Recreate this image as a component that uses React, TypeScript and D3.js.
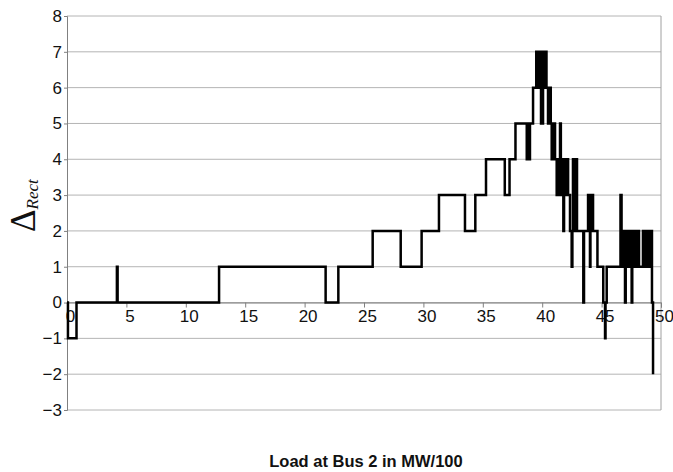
import React, { useEffect, useRef } from "react";
import * as d3 from "d3";

// load at bus 2 (MW/100) where the index changes, and the new value
const loads = [
  0, 0.08, 0.8, 4.2, 4.26, 12.8, 21.77, 22.84, 25.73, 28.09, 29.85, 31.31,
  33.5, 34.37, 35.27, 36.85, 37.25, 37.75, 38.7, 38.76, 38.82, 38.88, 38.94,
  38.97, 39.23, 39.5, 39.6, 39.72, 39.78, 39.84, 39.9, 40.07, 40.15, 40.22,
  40.36, 40.49, 40.66, 40.72, 40.8, 40.86, 40.93, 41.0, 41.08, 41.22, 41.33,
  41.42, 41.5, 41.57, 41.64, 41.7, 41.78, 41.84, 41.92, 42.0, 42.09, 42.18,
  42.34, 42.48, 42.54, 42.59, 42.66, 42.72, 42.79, 42.85, 42.93, 43.46, 43.52,
  43.86, 43.94, 44.02, 44.06, 44.11, 44.19, 44.28, 44.65, 45.14, 45.29, 45.33,
  45.43, 46.59, 46.68, 46.74, 46.8, 46.97, 47.03, 47.14, 47.2, 47.31, 47.37,
  47.53, 47.58, 47.64, 47.7, 47.81, 47.87, 47.98, 48.04, 48.15, 48.48, 48.56,
  48.65, 48.73, 48.82, 48.9, 48.99, 49.08, 49.16, 49.24, 49.33,
];
const deltas = [
  0, -1, 0, 1, 0, 1, 0, 1, 2, 1, 2, 3,
  2, 3, 4, 3, 4, 5, 4, 5, 4, 5, 4,
  5, 6, 7, 6, 7, 6, 7, 5, 7, 6, 7,
  6, 5, 6, 5, 4, 5, 4, 5, 4, 3, 4,
  3, 5, 4, 3, 4, 2, 3, 4, 3, 4, 3,
  2, 1, 2, 4, 2, 4, 2, 4, 2, 0, 2,
  3, 2, 1, 3, 2, 3, 2, 1, 0, -1, 0,
  1, 3, 2, 1, 2, 0, 2, 1, 2, 1, 2,
  0, 2, 1, 2, 1, 2, 1, 2, 1, 2, 1,
  2, 1, 2, 1, 2, 1, 2, 0, -2,
];
const xTickValues = [0, 5, 10, 15, 20, 25, 30, 35, 40, 45, 50];
const yTickValues = [-3, -2, -1, 0, 1, 2, 3, 4, 5, 6, 7, 8];

const width = 673;
const height = 472;

function App() {
  const svgRef = useRef<SVGSVGElement>(null);

  useEffect(() => {
    const svg = d3.select(svgRef.current);
    svg.selectAll("*").remove();

    const xScale = d3.scaleLinear().domain([0, 50]).range([67, 661]);
    const yScale = d3.scaleLinear().domain([-3, 8]).range([410, 16]);

    // horizontal gridlines
    svg
      .append("g")
      .selectAll("line")
      .data(yTickValues)
      .join("line")
      .attr("x1", xScale(0))
      .attr("x2", xScale(50))
      .attr("y1", (d) => yScale(d))
      .attr("y2", (d) => yScale(d))
      .attr("stroke", "#b4b4b4")
      .attr("stroke-width", 1);

    // right border of plot area
    svg
      .append("line")
      .attr("x1", xScale(50))
      .attr("x2", xScale(50))
      .attr("y1", yScale(8))
      .attr("y2", yScale(-3))
      .attr("stroke", "#a0a0a0");

    // y axis
    const yAxis = d3
      .axisLeft(yScale)
      .tickValues(yTickValues)
      .tickSize(3)
      .tickPadding(2)
      .tickFormat(d3.format("d"));
    const gy = svg
      .append("g")
      .attr("transform", `translate(${xScale(0)},0)`)
      .call(yAxis);
    gy.select(".domain").attr("stroke", "#808080");
    gy.selectAll(".tick line").attr("stroke", "#808080");
    gy.selectAll(".tick text")
      .attr("font-family", "'Liberation Sans', Arial, sans-serif")
      .attr("font-size", 17)
      .attr("fill", "#111");

    // x axis crossing at zero
    const xAxis = d3
      .axisBottom(xScale)
      .tickValues(xTickValues)
      .tickSize(5)
      .tickPadding(2)
      .tickFormat(d3.format("d"));
    const gx = svg
      .append("g")
      .attr("transform", `translate(0,${yScale(0)})`)
      .call(xAxis);
    gx.select(".domain").attr("stroke", "#808080");
    gx.selectAll(".tick line").attr("stroke", "#808080");
    gx.selectAll(".tick text")
      .attr("dx", 3)
      .attr("font-family", "'Liberation Sans', Arial, sans-serif")
      .attr("font-size", 17)
      .attr("fill", "#111");

    // step series
    const points = loads.map((l, i) => [l, deltas[i]] as [number, number]);
    const lineGen = d3
      .line<[number, number]>()
      .x((d) => xScale(d[0]))
      .y((d) => yScale(d[1]))
      .curve(d3.curveStepAfter);
    svg
      .append("path")
      .datum(points)
      .attr("d", lineGen)
      .attr("fill", "none")
      .attr("stroke", "#000")
      .attr("stroke-width", 2.5)
      .attr("stroke-linejoin", "miter");

    // axis titles
    const yTitle = svg
      .append("text")
      .attr("transform", "translate(35,232) rotate(-90)")
      .attr("font-family", "'Liberation Serif', 'Times New Roman', serif")
      .attr("fill", "#111");
    yTitle.append("tspan").attr("font-size", 35).text("Δ");
    yTitle
      .append("tspan")
      .attr("font-size", 17)
      .attr("font-style", "italic")
      .attr("dy", 3)
      .text("Rect");

    svg
      .append("text")
      .attr("x", 366)
      .attr("y", 467)
      .attr("text-anchor", "middle")
      .attr("font-family", "'Liberation Sans', Arial, sans-serif")
      .attr("font-weight", "bold")
      .attr("font-size", 16.5)
      .attr("fill", "#111")
      .text("Load at Bus 2 in MW/100");
  }, []);

  return (
    <React.Fragment>
      <style>{`body { margin: 0; }`}</style>
      <svg ref={svgRef} width={width} height={height} style={{ display: "block", background: "#fff" }} />
    </React.Fragment>
  );
}

export default App;
